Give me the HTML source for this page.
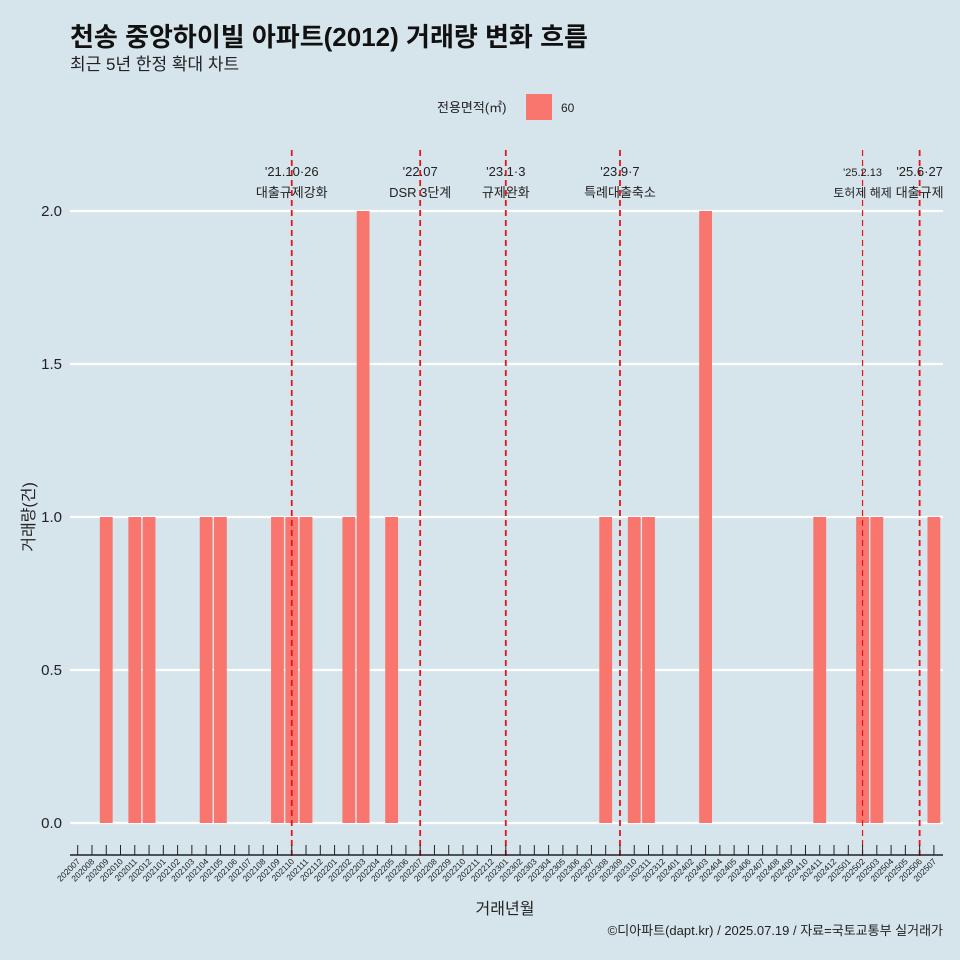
<!DOCTYPE html>
<html><head><meta charset="utf-8"><style>
body{margin:0;background:#d6e4ec;}
svg{display:block;font-family:"Liberation Sans","Noto Sans CJK KR",sans-serif;}
</style></head><body>
<svg id="chart" width="960" height="960" viewBox="0 0 960 960" xmlns="http://www.w3.org/2000/svg">
<rect width="960" height="960" fill="#d6e4ec"/>
<text x="70" y="46" font-size="26" font-weight="bold" fill="#111">천송 중앙하이빌 아파트(2012) 거래량 변화 흐름</text>
<text x="70" y="70" font-size="17" fill="#222">최근 5년 한정 확대 차트</text>
<g>
<text x="437" y="112" font-size="13" fill="#222">전용면적(㎡)</text>
<rect x="526" y="94" width="26" height="26" fill="#f8766d"/>
<text x="561" y="112" font-size="12" fill="#222">60</text>
</g>
<g id="grid"></g><g id="bars"></g><g id="vlines"></g><g id="xaxis"></g><g id="yaxis"></g>
<text transform="translate(34,517) rotate(-90)" text-anchor="middle" font-size="16" fill="#222">거래량(건)</text>
<text x="505" y="914" text-anchor="middle" font-size="16" fill="#222">거래년월</text>
<text x="943" y="935" text-anchor="end" font-size="13" fill="#222">©디아파트(dapt.kr) / 2025.07.19 / 자료=국토교통부 실거래가</text>
</svg>
<script>
const months=[];for(let y=2020;y<=2025;y++)for(let m=1;m<=12;m++){const s=y*100+m;if(s>=202007&&s<=202507)months.push(String(s));}
const barMonths=["202009","202011","202012","202104","202105","202109","202110","202111","202202","202203","202205","202308","202310","202311","202403","202411","202502","202503","202507"];
const barValues=[1,1,1,1,1,1,1,1,1,2,1,1,1,1,2,1,1,1,1];
const yTicks=[0,0.5,1,1.5,2];
const yTickLabels=["0.0","0.5","1.0","1.5","2.0"];
const eventMonths=["202110","202207","202301","202309","202502","202506"];
const eventLine1=["'21.10·26","'22.07","'23.1·3","'23.9·7","'25.2.13","'25.6·27"];
const eventLine2=["대출규제강화","DSR 3단계","규제완화","특례대출축소","토허제 해제","대출규제"];
const NS="http://www.w3.org/2000/svg";
const x0=77.7,step=14.27;
const X=m=>x0+months.indexOf(m)*step;
const Y=v=>823-v*306;
function mk(t,a,p){const e=document.createElementNS(NS,t);for(const k in a)e.setAttribute(k,a[k]);p.appendChild(e);return e;}
const grid=document.getElementById('grid'),bars=document.getElementById('bars'),vl=document.getElementById('vlines'),xa=document.getElementById('xaxis'),ya=document.getElementById('yaxis');
yTicks.forEach((v,i)=>{
 const l=mk('line',{x1:70,x2:943,y1:Y(v),y2:Y(v),stroke:'#fff','stroke-width':2.2},grid);
 
 
 const t=mk('text',{x:62,y:Y(v)+5,'text-anchor':'end','font-size':15,fill:'#222'},ya);
 t.textContent=yTickLabels[i];
 
 
});
barMonths.forEach((m,i)=>{
 const r=mk('rect',{x:X(m)-6.4,y:Y(barValues[i]),width:12.8,height:Y(0)-Y(barValues[i]),fill:'#f8766d'},bars);
 
 
});
eventMonths.forEach((m,i)=>{
 const x=X(m);const small=(m==="202502");
 const l=mk('line',{x1:x,x2:x,y1:150,y2:857,stroke:'#e8141c','stroke-width':small?1.2:1.8,'stroke-dasharray':'6,4'},vl);
 
 
 const t1=mk('text',{x:x,y:176,'text-anchor':'middle','font-size':small?11:13,fill:'#222'},vl);
 t1.textContent=eventLine1[i];
 
 
 const t2=mk('text',{x:x,y:197,'text-anchor':'middle','font-size':small?12:13,fill:'#222'},vl);
 t2.textContent=eventLine2[i];
 
 
});
const ax=mk('line',{x1:70,x2:943,y1:855,y2:855,stroke:'#222','stroke-width':1.5},xa);


months.forEach(m=>{
 const x=X(m);
 const t=mk('line',{x1:x,x2:x,y1:845,y2:855,stroke:'#222','stroke-width':1},xa);
 
 
 const lb=mk('text',{transform:`translate(${x+3},${862}) rotate(-45)`,'text-anchor':'end','font-size':8.5,fill:'#222'},xa);
 lb.textContent=m;
 
 
});
</script>
</body></html>
